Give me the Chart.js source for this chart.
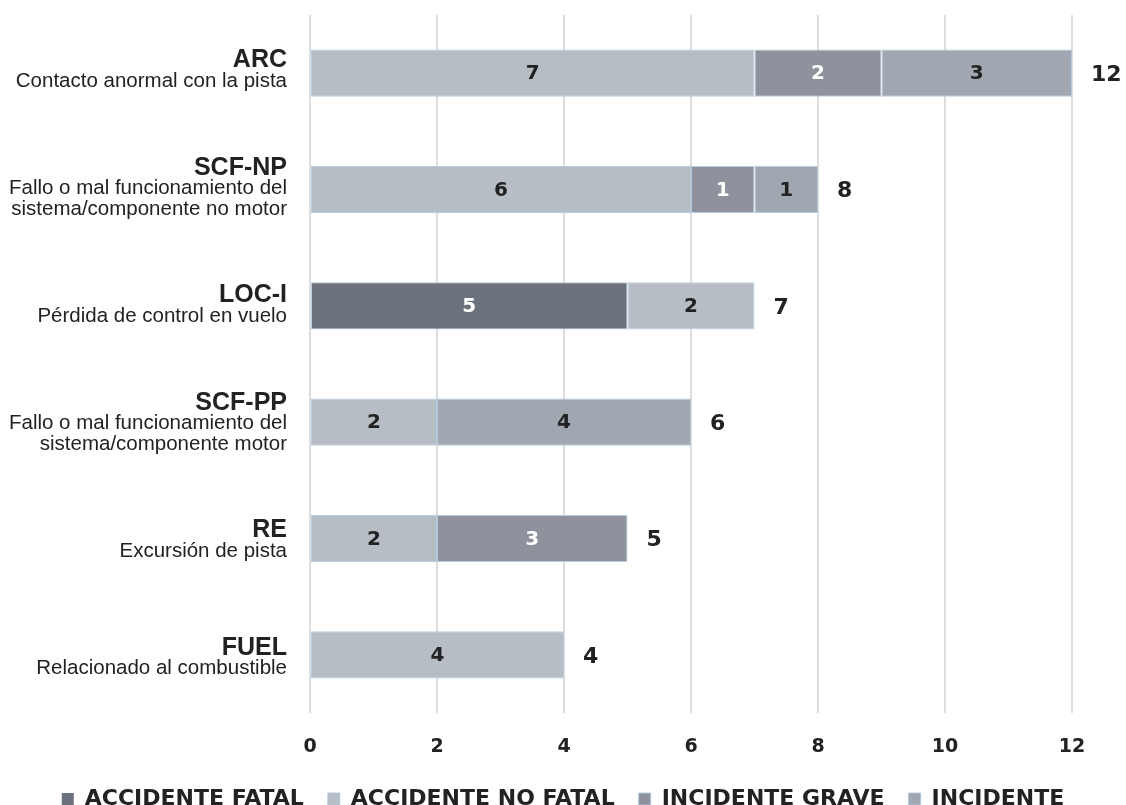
<!DOCTYPE html>
<html lang="es">
<head>
  <meta charset="UTF-8" />
  <title>Sucesos por categoría</title>
  <script src="https://cdn.jsdelivr.net/npm/chart.js"></script>
  <style>
    body { margin: 0; background: #fff; }
    .chart-box { position: relative; width: 1126px; height: 805px; }
  </style>
</head>
<body>
  <div class="chart-box">
    <canvas id="sucesosChart"></canvas>
  </div>

  <script>
    // Categorías y descripciones (eje vertical)
    const categorias = ['ARC', 'SCF-NP', 'LOC-I', 'SCF-PP', 'RE', 'FUEL'];
    const descripciones = [
      ['Contacto anormal con la pista'],
      ['Fallo o mal funcionamiento del', 'sistema/componente no motor'],
      ['Pérdida de control en vuelo'],
      ['Fallo o mal funcionamiento del', 'sistema/componente motor'],
      ['Excursión de pista'],
      ['Relacionado al combustible']
    ];

    // Valores por tipo de suceso
    const accidenteFatal   = [0, 0, 5, 0, 0, 0];
    const accidenteNoFatal = [7, 6, 2, 2, 2, 4];
    const incidenteGrave   = [2, 1, 0, 0, 3, 0];
    const incidente        = [3, 1, 0, 4, 0, 0];

    const ticksX = [0, 2, 4, 6, 8, 10, 12];

    const series = [
      { label: 'ACCIDENTE FATAL',    data: accidenteFatal,   color: '#6b717d', text: '#ffffff' },
      { label: 'ACCIDENTE NO FATAL', data: accidenteNoFatal, color: '#b7bdc5', text: '#222222' },
      { label: 'INCIDENTE GRAVE',    data: incidenteGrave,   color: '#8e929c', text: '#ffffff' },
      { label: 'INCIDENTE',          data: incidente,        color: '#a0a7b0', text: '#222222' }
    ];

    const totales = categorias.map((_, i) => series.reduce((s, d) => s + d.data[i], 0));

    // Etiquetas dentro de las barras, totales y nombres de categoría
    const etiquetasPlugin = {
      id: 'etiquetas',
      afterDatasetsDraw(chart) {
        const ctx = chart.ctx;
        const xScale = chart.scales.x;
        const yScale = chart.scales.y;
        ctx.save();

        // valores de cada segmento
        ctx.textAlign = 'center';
        ctx.textBaseline = 'middle';
        ctx.font = 'bold 20px "DejaVu Sans"';
        chart.data.datasets.forEach((ds, di) => {
          const meta = chart.getDatasetMeta(di);
          meta.data.forEach((bar, i) => {
            const v = ds.data[i];
            if (!v) return;
            ctx.fillStyle = series[di].text;
            ctx.fillText(String(v), (bar.x + bar.base) / 2, bar.y + 1);
          });
        });

        // totales al final de la barra
        ctx.textAlign = 'left';
        ctx.fillStyle = '#222222';
        ctx.font = 'bold 22px "DejaVu Sans"';
        totales.forEach((t, i) => {
          ctx.fillText(String(t), xScale.getPixelForValue(t) + 19, yScale.getPixelForValue(i) + 2);
        });

        // código y descripción de cada categoría (el bloque baja un poco en cada fila)
        ctx.textAlign = 'right';
        const xTexto = xScale.left - 23;
        categorias.forEach((cat, i) => {
          const yc = yScale.getPixelForValue(i);
          const lineas = descripciones[i];
          const yTitulo = yc - 13 + 1.2 * i - 10 * (lineas.length - 1);
          ctx.font = 'bold 25px "Liberation Sans"';
          ctx.fillText(cat, xTexto, yTitulo);
          ctx.font = '20.5px "Liberation Sans"';
          lineas.forEach((l, k) => {
            ctx.fillText(l, xTexto, yTitulo + 21 + 21 * k);
          });
        });
        ctx.restore();
      }
    };

    const chart = new Chart(document.getElementById('sucesosChart'), {
      type: 'bar',
      data: {
        labels: categorias,
        datasets: series.map(s => ({
          label: s.label,
          data: s.data,
          backgroundColor: s.color,
          borderColor: 'rgba(175, 198, 222, 0.9)',
          borderWidth: c => (c.raw ? 1 : 0),
          borderSkipped: false,
          barPercentage: 0.405,
          categoryPercentage: 1
        }))
      },
      options: {
        indexAxis: 'y',
        responsive: true,
        maintainAspectRatio: false,
        animation: false,
        // la leyenda baja un poco más que su caja por defecto
        layout: { padding: { left: 0, right: 0, top: 15, bottom: -15 } },
        scales: {
          x: {
            stacked: true,
            min: 0,
            max: 12,
            afterBuildTicks: scale => { scale.ticks = ticksX.map(v => ({ value: v })); },
            afterFit: scale => { scale.height = 51; },
            border: { display: false },
            grid: { color: '#dddddd', lineWidth: 2, drawTicks: false },
            ticks: {
              padding: 23,
              color: '#222222',
              font: { family: 'DejaVu Sans', weight: 'bold', size: 19 }
            }
          },
          y: {
            stacked: true,
            border: { display: false },
            grid: { display: false },
            ticks: { display: false },
            afterFit: scale => { scale.width = 310; }
          },
          // margen derecho para los totales
          yDerecha: {
            type: 'category',
            position: 'right',
            border: { display: false },
            grid: { display: false },
            ticks: { display: false },
            afterFit: scale => { scale.width = 54; }
          }
        },
        plugins: {
          legend: {
            position: 'bottom',
            labels: {
              boxWidth: 12,
              boxHeight: 12,
              padding: 24,
              color: '#222222',
              font: { family: 'DejaVu Sans', weight: 'bold', size: 22 }
            }
          },
          tooltip: { enabled: false }
        }
      },
      plugins: [etiquetasPlugin]
    });
  </script>
</body>
</html>
